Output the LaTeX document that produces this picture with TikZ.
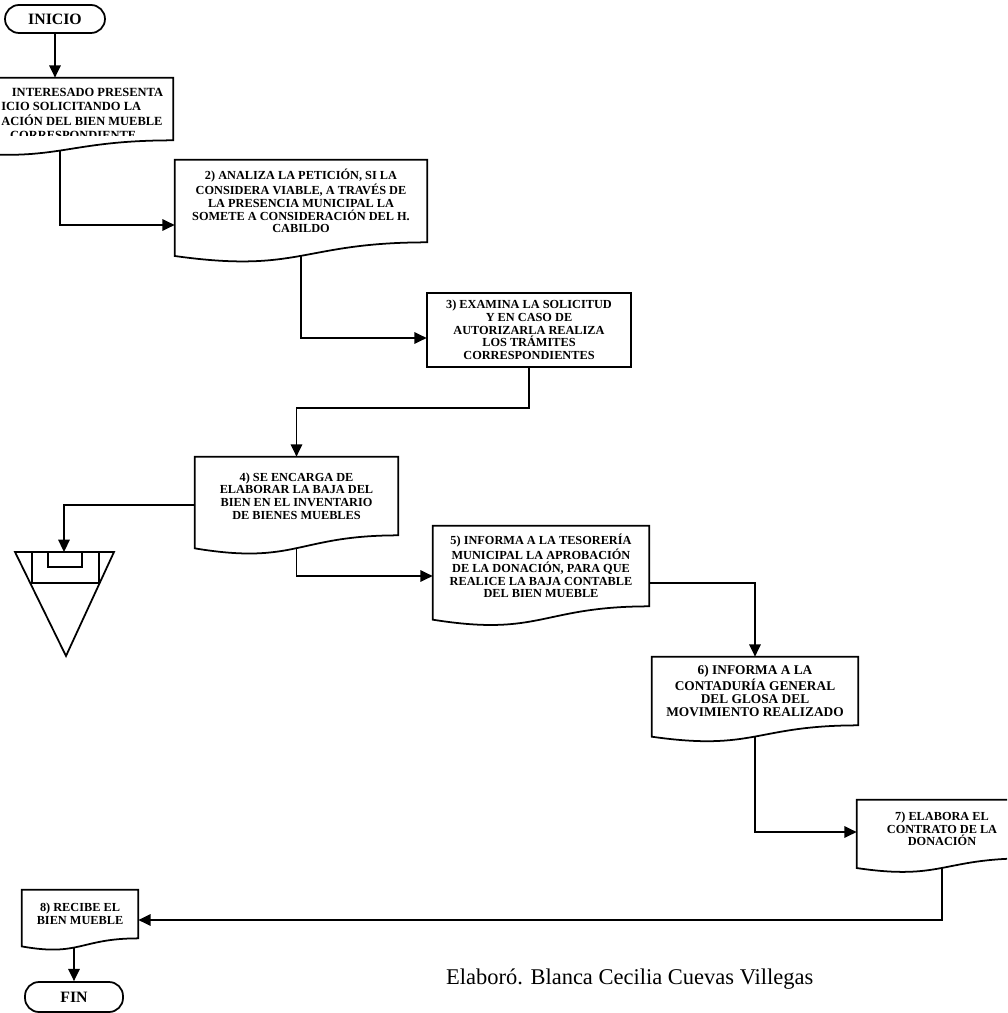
\documentclass[tikz,border=0pt]{standalone}
\usepackage{fontspec}
\setmainfont{Liberation Serif}
\usepackage{tikz}
\usetikzlibrary{calc,arrows.meta}
\pgfdeclarelayer{edges}
\pgfdeclarelayer{shapes}
\pgfsetlayers{edges,shapes,main}

% contorno de documento (borde inferior ondulado)
\newcommand{\docwave}[1]{%
  \draw[docline] let \p1=(#1.north west), \p2=(#1.south east) in
    (\p1) -- (\x2,\y1) -- (\p2)
    .. controls (0.5*\x1+0.5*\x2,\y2) and (0.5*\x1+0.5*\x2,1.38*\y2-0.38*\y1)
    .. (\x1,1.165*\y2-0.165*\y1) -- cycle;}

\begin{document}
\begin{tikzpicture}[x=0.02cm,y=-0.02cm]
      \tikzstyle{docline}=[draw,fill=white,line width=1pt]
      \tikzstyle{doc}=[rectangle,inner sep=0pt,align=center,font=\fontsize{7}{7.2}\selectfont\bfseries]
      \tikzstyle{term}=[rectangle,draw,fill=white,line width=1pt,rounded corners=0.28cm,inner sep=0pt,font=\fontsize{9}{10}\selectfont\bfseries]
      \tikzstyle{flow}=[line width=1pt,-{Triangle[length=7pt,width=6.5pt]}]
      \useasboundingbox (0,0) rectangle (1007,1013);
      \node[term,minimum width=2cm,minimum height=0.56cm] (inicio) at (55,19) {INICIO};
      \node[term,minimum width=1.96cm,minimum height=0.6cm] (fin) at (74,997) {FIN};
      \node[doc,minimum width=4.52cm,minimum height=1.24cm] (b1) at (60,109) {};
      \begin{scope}
        \clip (0,78) rectangle (173,136);
        \node[doc,anchor=west,align=left,font=\fontsize{7.1}{8.1}\selectfont\bfseries] (t1) at (1,114)
          {\hspace*{6pt}INTERESADO PRESENTA\\ICIO SOLICITANDO LA\\ACIÓN DEL BIEN MUEBLE\\\hspace*{5pt}CORRESPONDIENTE};
      \end{scope}
      \node[doc,minimum width=5.04cm,minimum height=1.64cm] (b2) at (301,201)
        {2) ANALIZA LA PETICIÓN, SI LA\\CONSIDERA VIABLE, A TRAVÉS DE\\LA PRESENCIA MUNICIPAL LA\\SOMETE A CONSIDERACIÓN DEL H.\\CABILDO};
      \begin{scope}
        \clip (427,293) rectangle (631,359);
        \node[doc,minimum width=4.08cm,minimum height=1.48cm] (b3) at (529,330)
          {3) EXAMINA LA SOLICITUD\\Y EN CASO DE\\AUTORIZARLA REALIZA\\LOS TRÁMITES\\CORRESPONDIENTES};
      \end{scope}
      \node[doc,minimum width=4.06cm,minimum height=1.56cm] (b4) at (296.5,496)
        {4) SE ENCARGA DE\\ELABORAR LA BAJA DEL\\BIEN EN EL INVENTARIO\\DE BIENES MUEBLES};
      \node[doc,minimum width=4.32cm,minimum height=1.6cm] (b5) at (541,566)
        {5) INFORMA A LA TESORERÍA\\MUNICIPAL LA APROBACIÓN\\DE LA DONACIÓN, PARA QUE\\REALICE LA BAJA CONTABLE\\DEL BIEN MUEBLE};
      \node[doc,minimum width=4.12cm,minimum height=1.36cm,font=\fontsize{7.6}{7.6}\selectfont\bfseries] (b6) at (755,691)
        {6) INFORMA A LA\\CONTADURÍA GENERAL\\DEL GLOSA DEL\\MOVIMIENTO REALIZADO};
      \node[doc,minimum width=3.4cm,minimum height=1.16cm] (b7) at (942,829)
        {7) ELABORA EL\\CONTRATO DE LA\\DONACIÓN};
      \node[doc,minimum width=2.32cm,minimum height=0.96cm] (b8) at (80,914)
        {8) RECIBE EL\\BIEN MUEBLE};
      \coordinate (arch) at (64,552);
      \node[anchor=base west,font=\fontsize{12.8}{15}\selectfont] (autor) at (440,984)
        {Elaboró. Blanca Cecilia Cuevas Villegas};
      % niveles de los conectores
      \coordinate (k1) at (0,225);
      \coordinate (k2) at (0,338);
      \coordinate (k3) at (0,408);
      \coordinate (k4) at (0,505);
      \coordinate (k5) at (0,576);
      \coordinate (k6) at (0,583);
      \coordinate (k7) at (0,832);
      \coordinate (k8) at (0,920);
      \begin{pgfonlayer}{edges}
        \draw[flow] (inicio) -- (inicio |- b1.north);
        \draw[flow] (b1) |- (b2.west |- k1);
        \draw[flow] (b2) |- (b3.west |- k2);
        \draw[flow] (b3) -- (b3 |- k3) -| (b4);
        \draw[flow] (b4.west |- k4) -| (arch);
        \draw[flow] (b4) |- (b5.west |- k5);
        \draw[flow] (b5.east |- k6) -| (b6);
        \draw[flow] (b6) |- (b7.west |- k7);
        \draw[flow] (b7) |- (b8.east |- k8);
        \draw[flow] (b8.south -| fin) -- (fin);
      \end{pgfonlayer}
      \begin{pgfonlayer}{shapes}
        \begin{scope}
          \clip (0,0) rectangle (1007,1013);
          \docwave{b1}
          \docwave{b2}
          \draw[docline] (b3.north west) rectangle (b3.south east);
          \docwave{b4}
          \docwave{b5}
          \docwave{b6}
          \docwave{b7}
          \docwave{b8}
          % archivo
          \draw[docline] (15,552) -- (114,552) -- (66,656) -- cycle;
          \draw[line width=1pt] (32,552) rectangle (99,583);
          \draw[line width=1pt] (48,552) rectangle (82,567);
        \end{scope}
      \end{pgfonlayer}
    \end{tikzpicture}
\end{document}
